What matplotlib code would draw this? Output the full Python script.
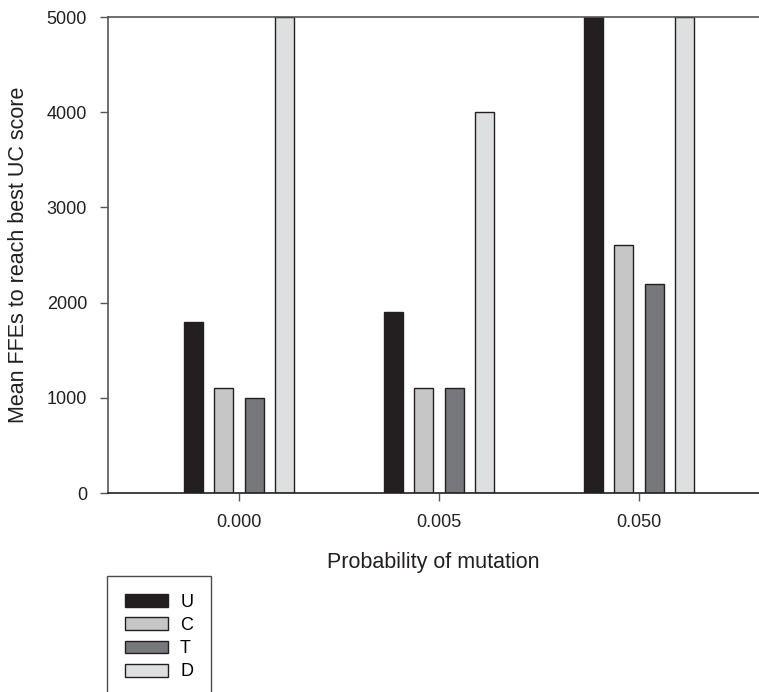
import numpy as np
from matplotlib import pyplot as plt

plt.rcParams['font.family'] = ['Liberation Sans', 'DejaVu Sans']

# probability of mutation categories
categories = ['0.000', '0.005', '0.050']
series = ['U', 'C', 'T', 'D']

# mean FFEs to reach best UC score
U = [1800, 1900, 5000]
C = [1100, 1100, 2600]
T = [1000, 1100, 2200]
D = [5000, 4000, 5000]
values = [U, C, T, D]

colors = ['#231f20', '#c6c6c6', '#77787b', '#dedfe0']
edge = '#231f20'

fig = plt.figure(figsize=(7.59, 6.92), dpi=100)
ax = fig.add_axes([108/759, 1 - 493/692, 651/759, 476/692])

x = np.arange(len(categories))
width = 0.095
step = 0.152
for i, (name, vals) in enumerate(zip(series, values)):
    offset = (i - 1.5) * step
    ax.bar(x + offset, vals, width, color=colors[i], edgecolor=edge,
           linewidth=1.0, label=name, zorder=2)

ax.set_xlim(-0.655, 2.6)
ax.set_ylim(0, 5000)
ax.set_yticks([0, 1000, 2000, 3000, 4000, 5000])
ax.set_xticks(x)
ax.set_xticklabels(categories)

ax.spines['right'].set_visible(False)
ax.spines['top'].set_color('#555555')
ax.spines['left'].set_color('#555555')
ax.spines['bottom'].set_color(edge)
for s in ['top', 'left', 'bottom']:
    ax.spines[s].set_linewidth(1.2)
ax.tick_params(axis='both', direction='out', length=6, width=1.0,
               color='#555555', labelsize=13, labelcolor='#231f20')
ax.tick_params(axis='y', pad=9)
ax.tick_params(axis='x', pad=9)

ax.set_xlabel('Probability of mutation', fontsize=15.5, labelpad=15, color='#231f20')
ax.set_ylabel('Mean FFEs to reach best UC score', fontsize=15.5, labelpad=13, color='#231f20')

leg = fig.legend(loc='upper left', bbox_to_anchor=(107/759, 1 - 576/692),
                 fontsize=13, frameon=True, fancybox=False, edgecolor=edge,
                 handlelength=2.4, handleheight=0.72, handletextpad=0.65,
                 labelspacing=0.34, borderpad=1.0, borderaxespad=0)
leg.get_frame().set_linewidth(1.0)

fig.savefig('out.png', dpi=100)
